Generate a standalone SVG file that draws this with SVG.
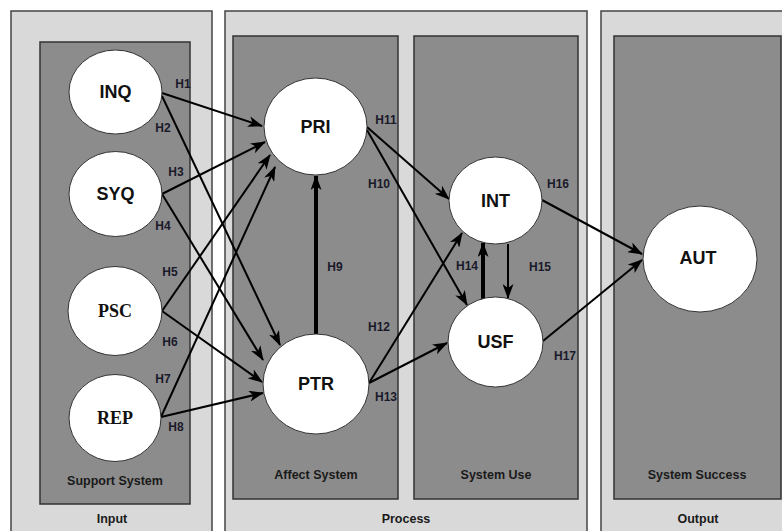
<svg xmlns="http://www.w3.org/2000/svg" width="782" height="531" viewBox="0 0 782 531">
<style>
.outer{fill:#d9d9d9;stroke:#444;stroke-width:1.5}
.inner{fill:#8c8c8c;stroke:#333;stroke-width:1.5}
.node{fill:#fff;stroke:#333;stroke-width:1}
.nt{font-family:"Liberation Sans",Arial,sans-serif;font-weight:bold;font-size:18px;fill:#111;text-anchor:middle}
.ns{font-family:"Liberation Serif","Times New Roman",serif;font-weight:bold;font-size:18px;fill:#111;text-anchor:middle}
.sec{font-family:"Liberation Sans",Arial,sans-serif;font-weight:bold;font-size:12.5px;fill:#1a1a1a;text-anchor:middle}
.h{font-family:"Liberation Sans",Arial,sans-serif;font-weight:bold;font-size:12px;fill:#1a1a2a;text-anchor:middle}
.c{stroke:#000;stroke-width:2;fill:none;marker-end:url(#arr)}
.ct{stroke:#000;stroke-width:4;fill:none;marker-end:url(#arr)}
</style>
<defs>
<marker id="arr" viewBox="0 0 15 11" markerWidth="15" markerHeight="11" refX="14" refY="5.5" orient="auto" markerUnits="userSpaceOnUse">
<path d="M0,0 L15,5.5 L0,11 L4,5.5 Z" fill="#000"/>
</marker>
</defs>
<rect width="782" height="531" fill="#fff"/>
<g id="panels">
<rect class="outer" x="11" y="11" width="201" height="530"/>
<rect class="inner" x="40" y="42" width="150" height="462"/>
<rect class="outer" x="225" y="11" width="362" height="530"/>
<rect class="inner" x="233" y="36" width="165" height="463"/>
<rect class="inner" x="414" y="36" width="164" height="463"/>
<rect class="outer" x="601" y="11" width="200" height="530"/>
<rect class="inner" x="614" y="36" width="167" height="463"/>
<text class="sec" x="115" y="485">Support System</text>
<text class="sec" x="112" y="523">Input</text>
<text class="sec" x="316" y="479">Affect System</text>
<text class="sec" x="496" y="479">System Use</text>
<text class="sec" x="406" y="523">Process</text>
<text class="sec" x="697" y="479">System Success</text>
<text class="sec" x="698" y="523">Output</text>
</g>
<g id="connectors">
<line class="c" x1="162" y1="93" x2="262" y2="126"/>
<line class="c" x1="162" y1="96" x2="280" y2="345"/>
<line class="c" x1="162" y1="194" x2="265" y2="142"/>
<line class="c" x1="162" y1="194" x2="263" y2="360"/>
<line class="c" x1="162" y1="311" x2="270" y2="155"/>
<line class="c" x1="162" y1="311" x2="262" y2="382"/>
<line class="c" x1="161" y1="417" x2="275" y2="167"/>
<line class="c" x1="161" y1="417" x2="263" y2="393"/>
<line class="ct" x1="316" y1="334" x2="316" y2="176"/>
<line class="c" x1="367" y1="130" x2="467" y2="305"/>
<line class="c" x1="367" y1="127" x2="449" y2="199"/>
<line class="c" x1="369" y1="383" x2="462" y2="233"/>
<line class="c" x1="369" y1="383" x2="447" y2="343"/>
<line class="ct" x1="483" y1="299" x2="483" y2="243"/>
<line class="c" x1="508" y1="244" x2="508" y2="298"/>
<line class="c" x1="542" y1="200" x2="642" y2="254"/>
<line class="c" x1="543" y1="341" x2="642" y2="260"/>
<text class="h" x="183" y="88">H1</text>
<text class="h" x="163" y="132">H2</text>
<text class="h" x="176" y="176">H3</text>
<text class="h" x="163" y="230">H4</text>
<text class="h" x="170" y="276">H5</text>
<text class="h" x="170" y="346">H6</text>
<text class="h" x="163" y="383">H7</text>
<text class="h" x="176" y="431">H8</text>
<text class="h" x="335" y="271">H9</text>
<text class="h" x="379" y="188">H10</text>
<text class="h" x="386" y="124">H11</text>
<text class="h" x="379" y="331">H12</text>
<text class="h" x="386" y="401">H13</text>
<text class="h" x="467" y="270">H14</text>
<text class="h" x="540" y="271">H15</text>
<text class="h" x="558" y="188">H16</text>
<text class="h" x="565" y="360">H17</text>
</g>
<g id="INQ"><ellipse class="node" cx="115.5" cy="92" rx="46.5" ry="42"/><text class="nt" x="115.5" y="98">INQ</text></g>
<g id="SYQ"><ellipse class="node" cx="115.5" cy="194" rx="46.5" ry="42.5"/><text class="nt" x="115.5" y="200">SYQ</text></g>
<g id="PSC"><ellipse class="node" cx="115" cy="311" rx="47" ry="44.5"/><text class="ns" x="115" y="317">PSC</text></g>
<g id="REP"><ellipse class="node" cx="115" cy="418" rx="46" ry="43.5"/><text class="ns" x="115" y="424">REP</text></g>
<g id="PRI"><ellipse class="node" cx="315.5" cy="126.5" rx="51.5" ry="48.5"/><text class="nt" x="315.5" y="132.5">PRI</text></g>
<g id="PTR"><ellipse class="node" cx="316" cy="384" rx="53" ry="50"/><text class="nt" x="316" y="390">PTR</text></g>
<g id="INT"><ellipse class="node" cx="495.5" cy="200.5" rx="46.5" ry="43.5"/><text class="nt" x="495.5" y="206.5">INT</text></g>
<g id="USF"><ellipse class="node" cx="495.5" cy="342" rx="47.5" ry="45"/><text class="nt" x="495.5" y="348">USF</text></g>
<g id="AUT"><ellipse class="node" cx="700" cy="259" rx="57" ry="53"/><text class="nt" x="698" y="264">AUT</text></g>
</svg>
